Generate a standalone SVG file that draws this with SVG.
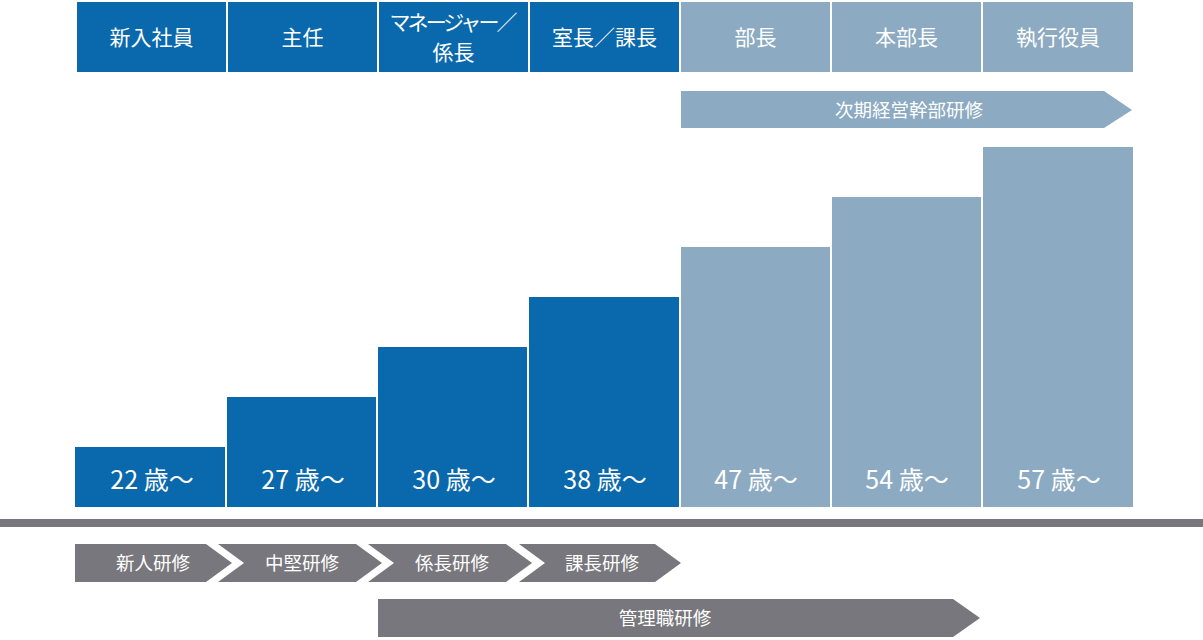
<svg xmlns="http://www.w3.org/2000/svg" width="1203" height="640" viewBox="0 0 1203 640">
<style>
.dk{fill:#0A68AC}
.lt{fill:#8CAAC1}
.gy{fill:#78777D}
text{font-family:"Noto Sans CJK JP","Noto Sans",sans-serif;fill:#FFFFFF;text-anchor:middle}
.h{font-size:21px}
.a{font-size:25px}
.t{font-size:18.5px}
</style>
<rect width="1203" height="640" fill="#FFFFFF"/>
<g id="headers">
<g id="h-shinnyu"><rect class="dk" x="77" y="2" width="149" height="70"/><text class="h" x="151.5" y="45">新入社員</text></g>
<g id="h-shunin"><rect class="dk" x="228" y="2" width="149" height="70"/><text class="h" x="302.5" y="45">主任</text></g>
<g id="h-manager"><rect class="dk" x="379" y="2" width="149" height="70"/><text class="h" x="453.5" y="30" textLength="128" lengthAdjust="spacing">マネージャー／</text><text class="h" x="453.5" y="60">係長</text></g>
<g id="h-kacho"><rect class="dk" x="530" y="2" width="149" height="70"/><text class="h" x="604.5" y="45">室長／課長</text></g>
<g id="h-bucho"><rect class="lt" x="681" y="2" width="149" height="70"/><text class="h" x="755.5" y="45">部長</text></g>
<g id="h-honbucho"><rect class="lt" x="832" y="2" width="149" height="70"/><text class="h" x="906.5" y="45">本部長</text></g>
<g id="h-yakuin"><rect class="lt" x="983" y="2" width="150" height="70"/><text class="h" x="1058" y="45">執行役員</text></g>
</g>
<g id="next-exec">
<polygon class="lt" points="681,91 1104,91 1132,110 1104,128 681,128"/>
<text class="t" x="909" y="117">次期経営幹部研修</text>
</g>
<g id="bars">
<g id="b22"><rect class="dk" x="75" y="447" width="150" height="60"/><text class="a" x="152" y="489">22 歳〜</text></g>
<g id="b27"><rect class="dk" x="227" y="397" width="149" height="110"/><text class="a" x="303" y="489">27 歳〜</text></g>
<g id="b30"><rect class="dk" x="378" y="347" width="149" height="160"/><text class="a" x="454" y="489">30 歳〜</text></g>
<g id="b38"><rect class="dk" x="529" y="297" width="150" height="210"/><text class="a" x="605" y="489">38 歳〜</text></g>
<g id="b47"><rect class="lt" x="681" y="247" width="149" height="260"/><text class="a" x="756" y="489">47 歳〜</text></g>
<g id="b54"><rect class="lt" x="832" y="197" width="149" height="310"/><text class="a" x="907" y="489">54 歳〜</text></g>
<g id="b57"><rect class="lt" x="983" y="147" width="150" height="360"/><text class="a" x="1059" y="489">57 歳〜</text></g>
</g>
<g id="axis"><rect class="gy" x="0" y="519" width="1203" height="8"/></g>
<g id="connectors"></g>
<g id="trainings">
<g id="t-shinjin"><polygon class="gy" points="75,544 206,544 232,563 206,582 75,582"/><text class="t" x="153" y="570">新人研修</text></g>
<g id="t-chuken"><polygon class="gy" points="218,544 356,544 382,563 356,582 218,582 244,563"/><text class="t" x="302" y="570">中堅研修</text></g>
<g id="t-kakaricho"><polygon class="gy" points="368,544 506,544 532,563 506,582 368,582 394,563"/><text class="t" x="452" y="570">係長研修</text></g>
<g id="t-kacho"><polygon class="gy" points="519,544 655,544 681,563 655,582 519,582 545,563"/><text class="t" x="602" y="570">課長研修</text></g>
<g id="t-kanri"><polygon class="gy" points="378,599 953,599 980,618 953,637 378,637"/><text class="t" x="665" y="625">管理職研修</text></g>
</g>
</svg>
